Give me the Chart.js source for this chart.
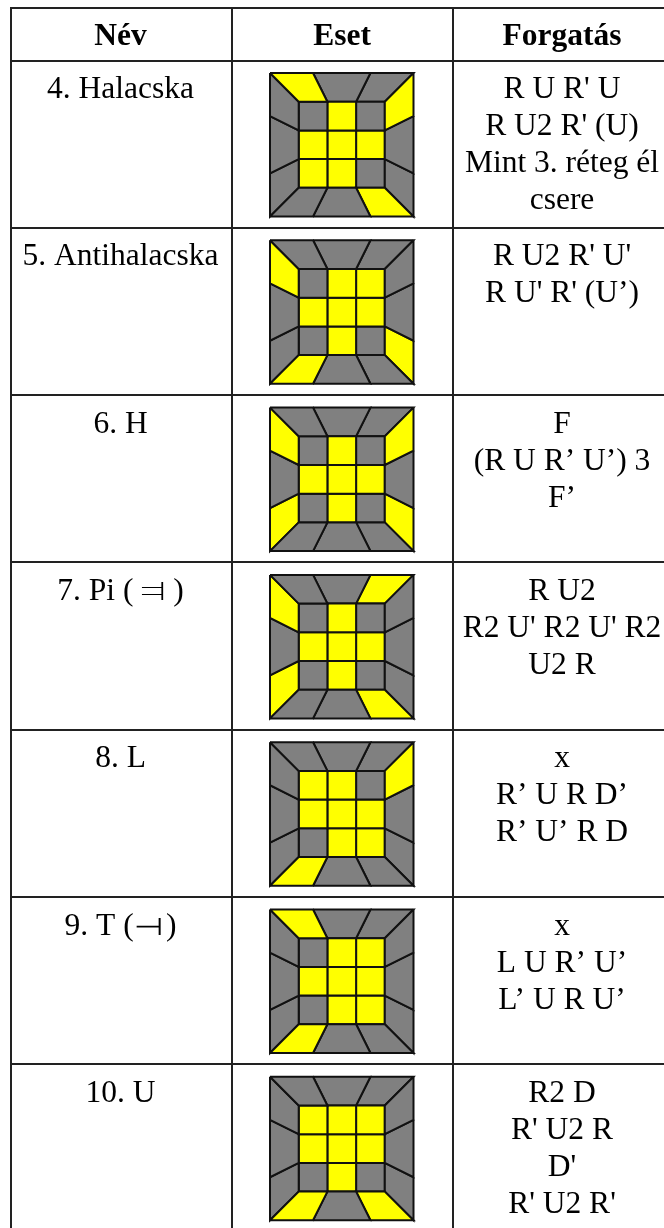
<!DOCTYPE html>
<html>
<head>
<meta charset="utf-8">
<style>
    html, body { margin: 0; padding: 0; background: #fff; overflow: hidden; }
    canvas { display: block; }
</style>
<script src="https://cdn.jsdelivr.net/npm/chart.js@4"></script>
</head>
<body>
<canvas id="myChart" width="664" height="1228"></canvas>
<script>
const headers = ['Név', 'Eset', 'Forgatás'];
const names = ['4. Halacska', '5. Antihalacska', '6. H', '7. Pi ( ⫤ )', '8. L', '9. T (\u200A⟞\u200A)', '10. U'];
const rotations = [
    ["R U R' U", "R U2 R' (U)", 'Mint 3. réteg él', 'csere'],
    ["R U2 R' U'", "R U' R' (U’)"],
    ['F', '(R U R’ U’) 3', 'F’'],
    ['R U2', "R2 U' R2 U' R2", 'U2 R'],
    ['x', 'R’ U R D’', 'R’ U’ R D'],
    ['x', 'L U R’ U’', 'L’ U R U’'],
    ['R2 D', "R' U2 R", "D'", "R' U2 R'"]
];

// 1 = yellow sticker, 0 = gray
const faces = [
    [[0, 1, 0], [1, 1, 1], [1, 1, 0]],
    [[0, 1, 1], [1, 1, 1], [0, 1, 0]],
    [[0, 1, 0], [1, 1, 1], [0, 1, 0]],
    [[0, 1, 0], [1, 1, 1], [0, 1, 0]],
    [[1, 1, 0], [1, 1, 1], [0, 1, 1]],
    [[0, 1, 1], [1, 1, 1], [0, 1, 1]],
    [[1, 1, 1], [1, 1, 1], [0, 1, 0]]
];
// side stickers, read left to right / top to bottom
const topSides = [[1, 0, 0], [0, 0, 0], [0, 0, 0], [0, 0, 1], [0, 0, 0], [1, 0, 0], [0, 0, 0]];
const rightSides = [[1, 0, 0], [0, 0, 1], [1, 0, 1], [0, 0, 0], [1, 0, 0], [0, 0, 0], [0, 0, 0]];
const bottomSides = [[0, 0, 1], [1, 0, 0], [0, 0, 0], [0, 0, 1], [1, 0, 0], [1, 0, 0], [1, 0, 1]];
const leftSides = [[0, 0, 0], [1, 0, 0], [1, 0, 1], [1, 0, 1], [0, 0, 0], [0, 0, 0], [0, 0, 0]];

// layout
const colLines = [10.5, 231.5, 452.5];
const headerLine = 60.5;
const rowHeight = 167.3;
const firstRowLine = 227.7;
const rowLines = [7.5, headerLine].concat(names.map((n, i) => firstRowLine + i * rowHeight).slice(0, 6));
const colCenters = [120.5, 342, 562];
const diagramLeft = 270;
const diagramTop = 73;
const diagramSize = 143.5;
const innerStops = [0.2, 0.4, 0.6, 0.8];
const outerStops = [0, 0.3, 0.7, 1];
const lineHeight = 37;
const fontSize = 31.5;

const toPoints = (row, uv) => uv.map(([u, v]) => ({
    x: diagramLeft + u * diagramSize,
    y: diagramTop + row * rowHeight + v * diagramSize
}));

const shape = (row, uv, on) => ({
    data: toPoints(row, uv.concat([uv[0]])),
    showLine: true,
    fill: 'shape',
    tension: 0,
    pointRadius: 0,
    borderWidth: 2,
    borderColor: '#111',
    backgroundColor: on ? '#ffff00' : '#808080'
});

const buildDatasets = () => {
    const out = [];
    names.forEach((n, row) => {
        for (let i = 0; i < 3; i++) {
            const a = outerStops[i], b = outerStops[i + 1], c = innerStops[i], d = innerStops[i + 1];
            out.push(shape(row, [[a, 0], [b, 0], [d, 0.2], [c, 0.2]], topSides[row][i]));
            out.push(shape(row, [[a, 1], [b, 1], [d, 0.8], [c, 0.8]], bottomSides[row][i]));
            out.push(shape(row, [[0, a], [0, b], [0.2, d], [0.2, c]], leftSides[row][i]));
            out.push(shape(row, [[1, a], [1, b], [0.8, d], [0.8, c]], rightSides[row][i]));
            for (let j = 0; j < 3; j++) {
                const x0 = innerStops[j], x1 = innerStops[j + 1], y0 = innerStops[i], y1 = innerStops[i + 1];
                out.push(shape(row, [[x0, y0], [x1, y0], [x1, y1], [x0, y1]], faces[row][i][j]));
            }
        }
    });
    return out;
};

const tableText = {
    id: 'tableText',
    afterDatasetsDraw(chart) {
        const { ctx, scales } = chart;
        const put = (str, col, y) => ctx.fillText(str, scales.x.getPixelForValue(colCenters[col]), scales.y.getPixelForValue(y));
        ctx.save();
        ctx.fillStyle = '#000';
        ctx.textAlign = 'center';
        ctx.textBaseline = 'alphabetic';
        ctx.font = 'bold ' + fontSize + 'px "Liberation Serif", serif';
        headers.forEach((h, i) => put(h, i, 45));
        ctx.font = fontSize + 'px "Liberation Serif", "DejaVu Sans", serif';
        names.forEach((n, row) => {
            const base = headerLine + row * rowHeight + 37.5;
            put(n, 0, base);
            rotations[row].forEach((line, i) => put(line, 2, base + i * lineHeight));
        });
        ctx.restore();
    }
};

new Chart(document.getElementById('myChart'), {
    type: 'scatter',
    data: { datasets: buildDatasets() },
    plugins: [tableText],
    options: {
        responsive: false,
        animation: false,
        layout: { padding: { left: 10, top: 7 } },
        plugins: { legend: { display: false }, tooltip: { enabled: false }, title: { display: false } },
        scales: {
            x: {
                type: 'linear',
                min: 10,
                max: 664,
                afterBuildTicks: scale => { scale.ticks = colLines.map(value => ({ value })); },
                ticks: { display: false },
                border: { display: false },
                grid: { color: '#222', lineWidth: 2, drawTicks: false }
            },
            y: {
                type: 'linear',
                reverse: true,
                min: 7,
                max: 1228,
                afterBuildTicks: scale => { scale.ticks = rowLines.map(value => ({ value })); },
                ticks: { display: false },
                border: { display: false },
                grid: { color: '#222', lineWidth: 2, drawTicks: false }
            }
        }
    }
});
</script>
</body>
</html>
